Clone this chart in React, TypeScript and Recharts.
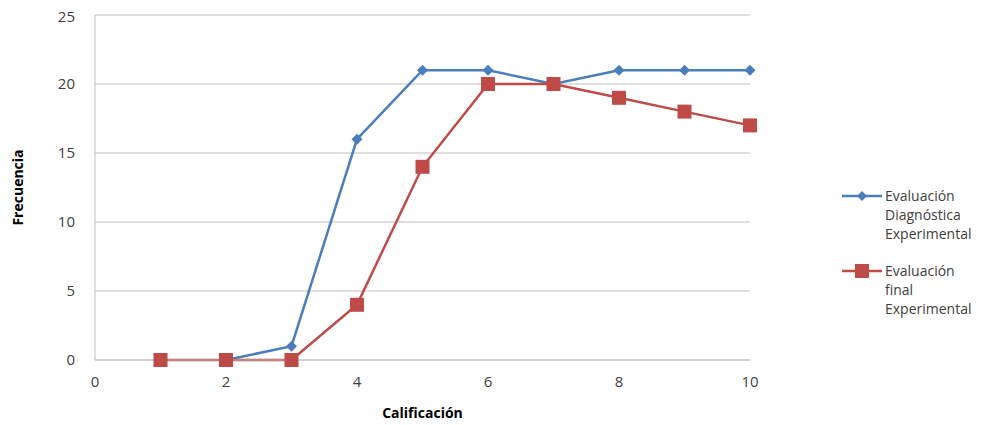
import { LineChart, Line, XAxis, YAxis, CartesianGrid } from 'recharts'

const calificaciones = [1, 2, 3, 4, 5, 6, 7, 8, 9, 10]
const diagnostica = [null, 0, 1, 16, 21, 21, 20, 21, 21, 21]
const final = [0, 0, 0, 4, 14, 20, 20, 19, 18, 17]
const xTicks = [0, 2, 4, 6, 8, 10]
const yTicks = [0, 5, 10, 15, 20, 25]

const series = [
  { key: 'diagnostica', name: 'Evaluación Diagnóstica Experimental', lines: ['Evaluación', 'Diagnóstica', 'Experimental'], color: '#4A7EBB', shape: 'diamond' },
  { key: 'final', name: 'Evaluación final Experimental', lines: ['Evaluación', 'final', 'Experimental'], color: '#BE4B48', shape: 'square' },
]

const data = calificaciones.map((c, i) => ({ x: c, diagnostica: diagnostica[i], final: final[i] }))

const FONT = 'Open Sans, sans-serif'

function Diamond(props: any) {
  const { cx, cy, stroke } = props
  if (cx == null || cy == null) return null
  const r = 5.5
  return <path d={`M${cx},${cy - r}L${cx + r},${cy}L${cx},${cy + r}L${cx - r},${cy}Z`} fill={stroke} />
}

function Square(props: any) {
  const { cx, cy, stroke } = props
  if (cx == null || cy == null) return null
  const s = 7
  return <rect x={cx - s} y={cy - s} width={s * 2} height={s * 2} fill={stroke} />
}

function LegendBox() {
  return (
    <div style={{ position: 'absolute', left: 832, top: 178, width: 150, fontFamily: FONT, fontSize: 14, color: '#404040' }}>
      {series.map((s) => (
        <div key={s.key} style={{ display: 'flex', alignItems: 'flex-start', marginBottom: 18 }}>
          <svg width={44} height={20} style={{ flexShrink: 0 }}>
            <line x1={2} y1={10} x2={42} y2={10} stroke={s.color} strokeWidth={2.5} />
            {s.shape === 'diamond' ? (
              <path d="M22,5L27,10L22,15L17,10Z" fill={s.color} />
            ) : (
              <rect x={15} y={3} width={14} height={14} fill={s.color} />
            )}
          </svg>
          <div style={{ lineHeight: '19px', marginLeft: 1 }}>
            {s.lines.map((l) => (
              <div key={l}>{l}</div>
            ))}
          </div>
        </div>
      ))}
    </div>
  )
}

export default function App() {
  return (
    <div style={{ position: 'relative', width: 980, height: 417 }}>
      <LineChart
        width={980}
        height={417}
        data={data}
        margin={{ top: 7, right: 238, bottom: 0, left: 0 }}
        style={{ overflow: 'visible' }}
      >
        <CartesianGrid vertical={false} stroke="#BFBFBF" strokeWidth={1} />
        <XAxis
          dataKey="x"
          type="number"
          domain={[0, 10]}
          ticks={xTicks}
          tickLine={false}
          tickSize={0}
          tickMargin={16}
          axisLine={{ stroke: '#BFBFBF' }}
          tick={{ fill: '#404040', fontSize: 15, fontFamily: FONT }}
          label={{ value: 'Calificación', position: 'insideBottom', offset: 0, dy: -7, style: { fontFamily: FONT, fontWeight: 700, fontSize: 14, fill: '#000' } }}
          height={65}
        />
        <YAxis
          type="number"
          domain={[0, 25]}
          ticks={yTicks}
          tickLine={false}
          tickSize={0}
          tickMargin={20}
          axisLine={{ stroke: '#BFBFBF' }}
          tick={{ fill: '#404040', fontSize: 15, fontFamily: FONT }}
          width={87}
          label={{ value: 'Frecuencia', angle: -90, position: 'insideLeft', offset: 10, style: { textAnchor: 'middle', fontFamily: FONT, fontWeight: 700, fontSize: 14, fill: '#000' } }}
        />
        {series.map((s) => (
          <Line
            key={s.key}
            dataKey={s.key}
            name={s.name}
            stroke={s.color}
            strokeWidth={2.5}
            dot={s.shape === 'diamond' ? <Diamond /> : <Square />}
            activeDot={false}
            isAnimationActive={false}
            connectNulls={false}
          />
        ))}
      </LineChart>
      <LegendBox />
    </div>
  )
}
